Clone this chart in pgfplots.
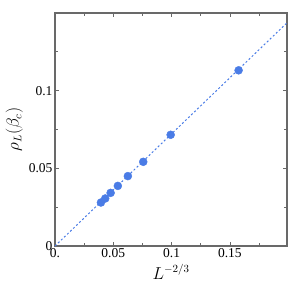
\documentclass[border=0pt]{standalone}
\usepackage{fontspec}
\setmainfont{Liberation Serif}
\usepackage{pgfplots}
\pgfplotsset{compat=1.18}
\definecolor{ptblue}{RGB}{74,124,230}
\definecolor{framegray}{RGB}{105,105,105}
\begin{document}
\begin{tikzpicture}
\begin{axis}[
  width=232pt, height=233pt, scale only axis,
  xmin=0, xmax=0.199, ymin=0, ymax=0.15,
  axis line style={framegray, line width=1.1pt},
  tick style={framegray, line width=0.7pt},
  major tick length=4pt, minor tick length=3pt,
  tick align=inside,
  xtick={0,0.05,0.1,0.15}, xticklabels={0.,0.05,0.1,0.15},
  minor xtick={0.025,0.075,0.125,0.175},
  ytick={0,0.05,0.1}, yticklabels={0,0.05,0.1},
  minor ytick={0.025,0.075,0.125},
  /pgf/number format/assume math mode=true,
  ticklabel style={font=\fontsize{13.5}{15}\selectfont, black},
  yticklabel style={xshift=1pt},
  xticklabel style={yshift=1pt},
  xlabel={$L^{-2/3}$}, ylabel={$\rho_L(\beta_c)$},
  label style={font=\fontsize{16}{18}\selectfont},
  xlabel style={yshift=0pt},
  ylabel style={yshift=-1pt},
  clip=false,
]
\addplot[ptblue, line width=1pt, dash pattern=on 2pt off 2.2pt] coordinates {(0,0) (0.199,0.1437)};
\addplot[only marks, mark=*, mark size=4pt, mark options={draw=ptblue, fill=ptblue}] coordinates {
(0.0394,0.0280)
(0.0431,0.0306)
(0.0477,0.0342)
(0.0539,0.0387)
(0.0625,0.0450)
(0.0757,0.0542)
(0.0992,0.0716)
(0.1575,0.1131)
};
\coordinate (sw) at (rel axis cs:0,0);
\coordinate (ne) at (rel axis cs:1,1);
\end{axis}
\pgfresetboundingbox
\path[use as bounding box] ([shift={(-55pt,-41pt)}]sw) rectangle ([shift={(4pt,13pt)}]ne);
\end{tikzpicture}
\end{document}
